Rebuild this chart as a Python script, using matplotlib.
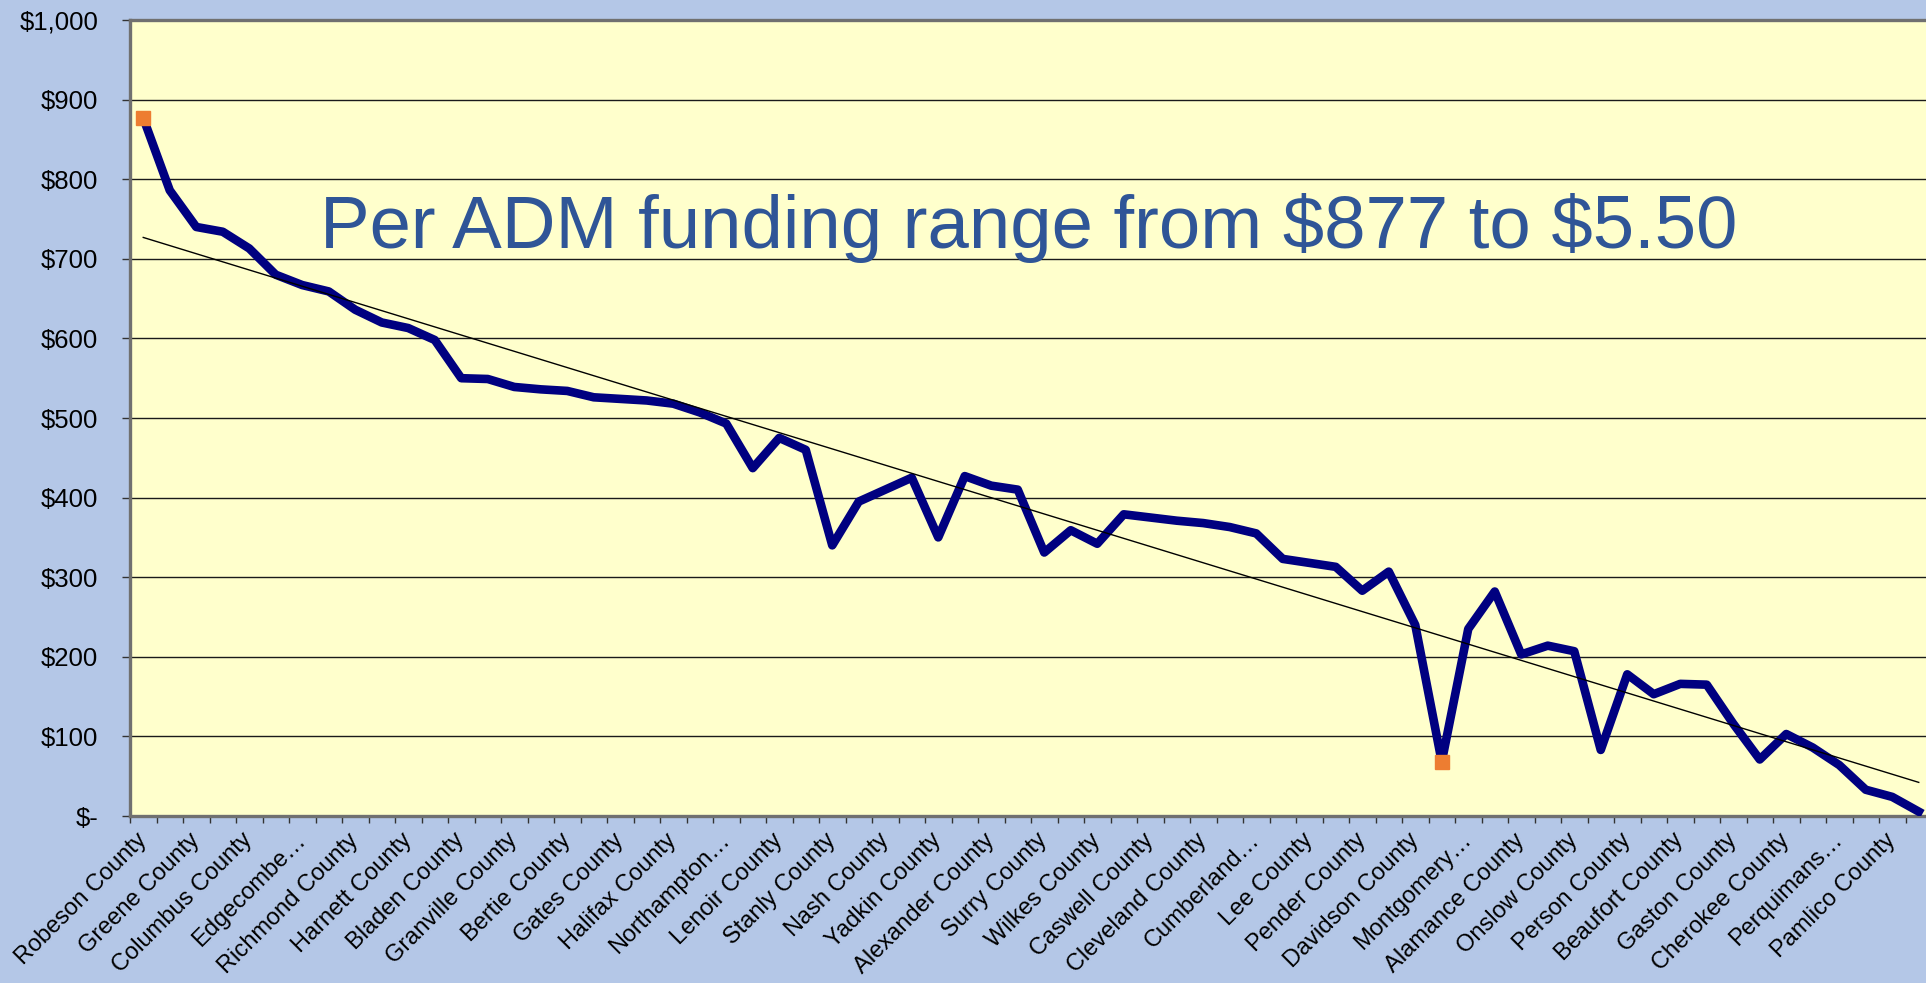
import matplotlib.pyplot as plt
from matplotlib.ticker import FixedLocator, FuncFormatter, NullFormatter
import numpy as np

plt.rcParams['font.family'] = ['Liberation Sans', 'DejaVu Sans']

# Per ADM funding by county, sorted high -> low (68 counties)
funding = [877, 786, 740, 734, 713, 680, 667, 659, 636, 620,
           613, 598, 550, 549, 539, 536, 534, 526, 524, 522,
           518, 507, 493, 437, 475, 460, 340, 395, 410, 425,
           350, 427, 415, 410, 331, 359, 342, 379, 375, 371,
           368, 363, 355, 323, 318, 313, 283, 307, 240, 68,
           235, 282, 203, 214, 207, 83, 178, 153, 166, 165,
           116, 71, 103, 86, 64, 33, 24, 5.5]

# only every other county name fits on the axis
shown_labels = ["Robeson County", "Greene County", "Columbus County", "Edgecombe…",
                "Richmond County", "Harnett County", "Bladen County", "Granville County",
                "Bertie County", "Gates County", "Halifax County", "Northampton…",
                "Lenoir County", "Stanly County", "Nash County", "Yadkin County",
                "Alexander County", "Surry County", "Wilkes County", "Caswell County",
                "Cleveland County", "Cumberland…", "Lee County", "Pender County",
                "Davidson County", "Montgomery…", "Alamance County", "Onslow County",
                "Person County", "Beaufort County", "Gaston County", "Cherokee County",
                "Perquimans…", "Pamlico County"]

highlight = [0, 49]

title = r"Per ADM funding range from \$877 to \$5.50"

n = len(funding)
x = np.arange(n)
y = np.array(funding)

fig = plt.figure(figsize=(19.26, 9.83), dpi=100)
fig.patch.set_facecolor('#B4C7E7')
ax = fig.add_axes([130/1926, 167/983, 1802/1926, 796/983])
ax.set_facecolor('#FFFFCC')

ax.plot(x, y, color='#000080', lw=6.2, solid_joinstyle='round', zorder=3)
coef = np.polyfit(x, y, 1)
ax.plot(x, np.polyval(coef, x), color='black', lw=1.0, zorder=4)
ax.plot(x[highlight], y[highlight], ls='none', marker='s', ms=10.5,
        color='#ED7D31', mec='#ED7D31', zorder=5)

ax.set_xlim(-0.5, n - 0.5)
ax.set_ylim(0, 1000)

ax.set_yticks(np.arange(0, 1001, 100))
ax.yaxis.set_major_formatter(FuncFormatter(lambda v, p: '$-' if v == 0 else f'${v:,.0f}'))
ax.yaxis.grid(True, color='#1a1a1a', lw=1.0)
ax.set_axisbelow(True)
ax.tick_params(axis='y', direction='out', length=6, width=1, color='#333333',
               labelsize=18.5, pad=17)

ax.xaxis.set_major_locator(FixedLocator(np.arange(-0.5, n, 1)))
ax.xaxis.set_major_formatter(NullFormatter())
ax.tick_params(axis='x', which='major', direction='out', length=5, width=1, color='#333333')
ax.set_xticks(np.arange(0, n, 2), minor=True)
ax.set_xticklabels(shown_labels, minor=True, rotation=45, ha='right', va='center',
                   rotation_mode='anchor')
ax.tick_params(axis='x', which='minor', length=0, labelsize=17, pad=15)

for side in ['top', 'left', 'bottom']:
    ax.spines[side].set_color('#707070')
    ax.spines[side].set_linewidth(2.4)
ax.spines['right'].set_visible(False)

ax.text(0.1055, 0.7136, title, transform=ax.transAxes, fontsize=53.6,
        color='#2F5597', va='baseline', ha='left')

fig.savefig('out.png', dpi=100, facecolor=fig.get_facecolor())
